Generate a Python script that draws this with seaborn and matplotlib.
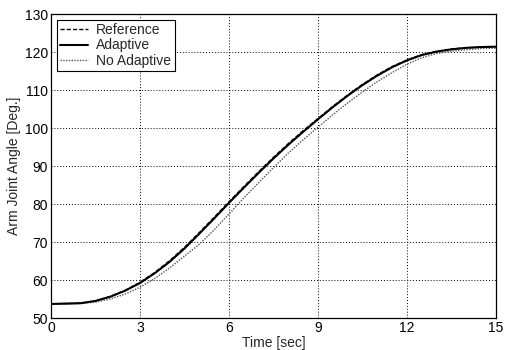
import numpy as np
import pandas as pd
import matplotlib
matplotlib.use("Agg")
import matplotlib.pyplot as plt
import seaborn as sns

# Time base (s) and joint-angle responses (deg)
time_s = [0.0, 1.0, 1.5, 2.0, 2.5, 3.0, 3.5, 4.0, 4.5, 5.0, 5.5, 6.0, 6.5, 7.0,
          7.5, 8.0, 8.5, 9.0, 9.5, 10.0, 10.5, 11.0, 11.5, 12.0, 12.5, 13.0,
          13.5, 14.0, 14.5, 15.0]
reference = [53.7, 53.9, 54.5, 55.7, 57.3, 59.4, 62.0, 65.1, 68.6, 72.5, 76.5,
             80.6, 84.6, 88.5, 92.3, 95.9, 99.3, 102.5, 105.7, 108.7, 111.5,
             114.0, 116.2, 117.9, 119.3, 120.2, 120.8, 121.1, 121.3, 121.4]
adaptive = [53.7, 53.9, 54.5, 55.6, 57.2, 59.2, 61.8, 64.8, 68.3, 72.2, 76.2,
            80.3, 84.3, 88.2, 92.0, 95.6, 99.0, 102.3, 105.5, 108.5, 111.3,
            113.8, 116.0, 117.8, 119.2, 120.1, 120.7, 121.1, 121.3, 121.4]
no_adaptive = [53.7, 53.8, 54.2, 55.0, 56.3, 58.1, 60.4, 63.2, 66.3, 69.4,
               73.2, 77.4, 81.6, 85.6, 89.6, 93.4, 96.9, 100.2, 103.5, 106.6,
               109.5, 112.2, 114.6, 116.8, 118.5, 119.6, 120.2, 120.6, 120.9,
               121.0]
series_names = ["Reference", "Adaptive", "No Adaptive"]

x_ticks = [0, 3, 6, 9, 12, 15]
y_ticks = [50, 60, 70, 80, 90, 100, 110, 120, 130]

sns.set_style("white")
plt.rcParams["font.family"] = ["Liberation Sans", "DejaVu Sans"]

frames = []
for name, vals in zip(series_names, [reference, adaptive, no_adaptive]):
    frames.append(pd.DataFrame({"t": time_s, "angle": vals, "series": name}))
df = pd.concat(frames, ignore_index=True)

fig = plt.figure(figsize=(5.09, 3.5), dpi=100)
ax = fig.add_axes([0.1002, 0.0914, 0.8743, 0.8686])

styles = {
    "Reference": dict(color="black", linestyle=(0, (3, 1.5)), linewidth=1.0),
    "Adaptive": dict(color="black", linestyle="-", linewidth=1.5),
    "No Adaptive": dict(color="#555555", linestyle=(0, (1, 1)), linewidth=1.0),
}
for name in ["No Adaptive", "Adaptive", "Reference"]:
    sub = df[df["series"] == name]
    sns.lineplot(data=sub, x="t", y="angle", ax=ax, label=name,
                 estimator=None, sort=False, **styles[name])

ax.set_xlim(0, 15)
ax.set_ylim(50, 130)
ax.set_xticks(x_ticks)
ax.set_yticks(y_ticks)
ax.set_xticklabels([str(v) for v in x_ticks])
ax.set_yticklabels([str(v) for v in y_ticks])
ax.tick_params(direction="in", length=3, labelsize=10, colors="black", pad=2)
ax.grid(True, linestyle=(0, (1, 2)), color="black", linewidth=0.7)
for sp in ax.spines.values():
    sp.set_color("black")
    sp.set_linewidth(0.9)
    sp.set_visible(True)

ax.set_xlabel("Time [sec]", fontsize=10, labelpad=1)
ax.set_ylabel("Arm Joint Angle [Deg.]", fontsize=10, labelpad=3)

handles, labels = ax.get_legend_handles_labels()
order = [labels.index(n) for n in series_names]
leg = ax.legend([handles[i] for i in order], [labels[i] for i in order],
                loc="upper left", fontsize=10, frameon=True, fancybox=False,
                handlelength=2.0, handletextpad=0.6, borderpad=0.25,
                labelspacing=0.1, borderaxespad=0.4)
leg.get_frame().set_edgecolor("black")
leg.get_frame().set_linewidth(0.8)
leg.get_frame().set_alpha(1)

fig.savefig("out.png", dpi=100, facecolor="white")
